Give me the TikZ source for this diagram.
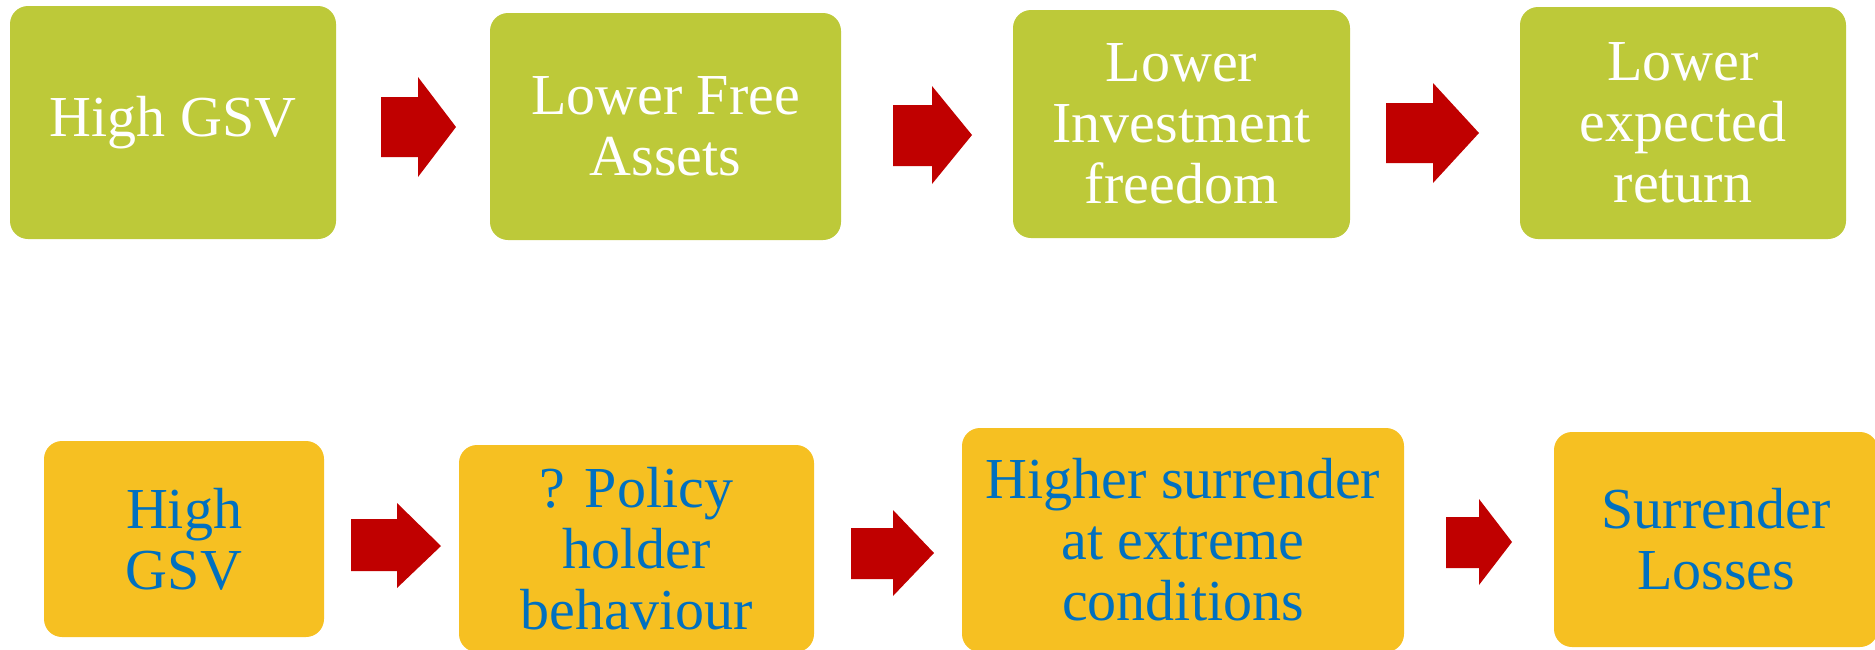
\documentclass[tikz,border=0pt]{standalone}
\usepackage{fontspec}
\setmainfont{Liberation Serif}
\definecolor{olivebox}{RGB}{189,201,57}
\definecolor{goldbox}{RGB}{246,192,34}
\definecolor{bluetext}{RGB}{0,112,192}
\definecolor{arrowred}{RGB}{192,0,0}
\tikzset{
  stepbox/.style={rectangle, rounded corners=18pt, align=center, inner sep=0pt,
    font=\fontsize{58}{61}\selectfont},
  topbox/.style={stepbox, fill=olivebox, text=white},
  lowbox/.style={stepbox, fill=goldbox, text=bluetext},
  blockarrow/.style={fill=arrowred, draw=none}
}
% block arrow: start x, head x, tip x, shaft top, shaft bottom, head top, head bottom, tip y
\newcommand{\redarrow}[8]{%
  \fill[blockarrow] (#1,#4) -- (#2,#4) -- (#2,#6) -- (#3,#8) -- (#2,#7) -- (#2,#5) -- (#1,#5) -- cycle;}
\begin{document}
\begin{tikzpicture}[x=1pt,y=-1pt]
\useasboundingbox (0,0) rectangle (1875,649);

% upper chain
\node[topbox, minimum width=326pt, minimum height=233pt] (t1) at (173,122.5) {High GSV};
\node[topbox, minimum width=351pt, minimum height=227pt] (t2) at (665.5,126.5) {Lower Free\\Assets};
\node[topbox, minimum width=337pt, minimum height=228pt] (t3) at (1181.5,124) {Lower\\Investment\\freedom};
\node[topbox, minimum width=326pt, minimum height=232pt] (t4) at (1683,123) {Lower\\expected\\return};

\redarrow{381}{418}{456}{97}{157}{77}{177}{127}
\redarrow{893}{932}{972}{105}{166}{86}{184}{135}
\redarrow{1386}{1433}{1479}{103}{163}{83}{183}{133}

% lower chain
\node[lowbox, minimum width=280pt, minimum height=196pt] (b1) at (184,539) {High\\GSV};
\node[lowbox, minimum width=355pt, minimum height=207pt] (b2) at (636.5,548.5) {? Policy\\holder\\behaviour};
\node[lowbox, minimum width=442pt, minimum height=224pt] (b3) at (1183,540) {Higher surrender\\at extreme\\conditions};
\node[lowbox, minimum width=324pt, minimum height=215pt] (b4) at (1716,539.5) {Surrender\\Losses};

\redarrow{351}{397}{441}{519}{571}{503}{588}{546}
\redarrow{851}{893}{934}{528}{579}{510}{596}{553}
\redarrow{1446}{1479}{1512}{517}{568}{499}{585}{542}
\end{tikzpicture}
\end{document}
